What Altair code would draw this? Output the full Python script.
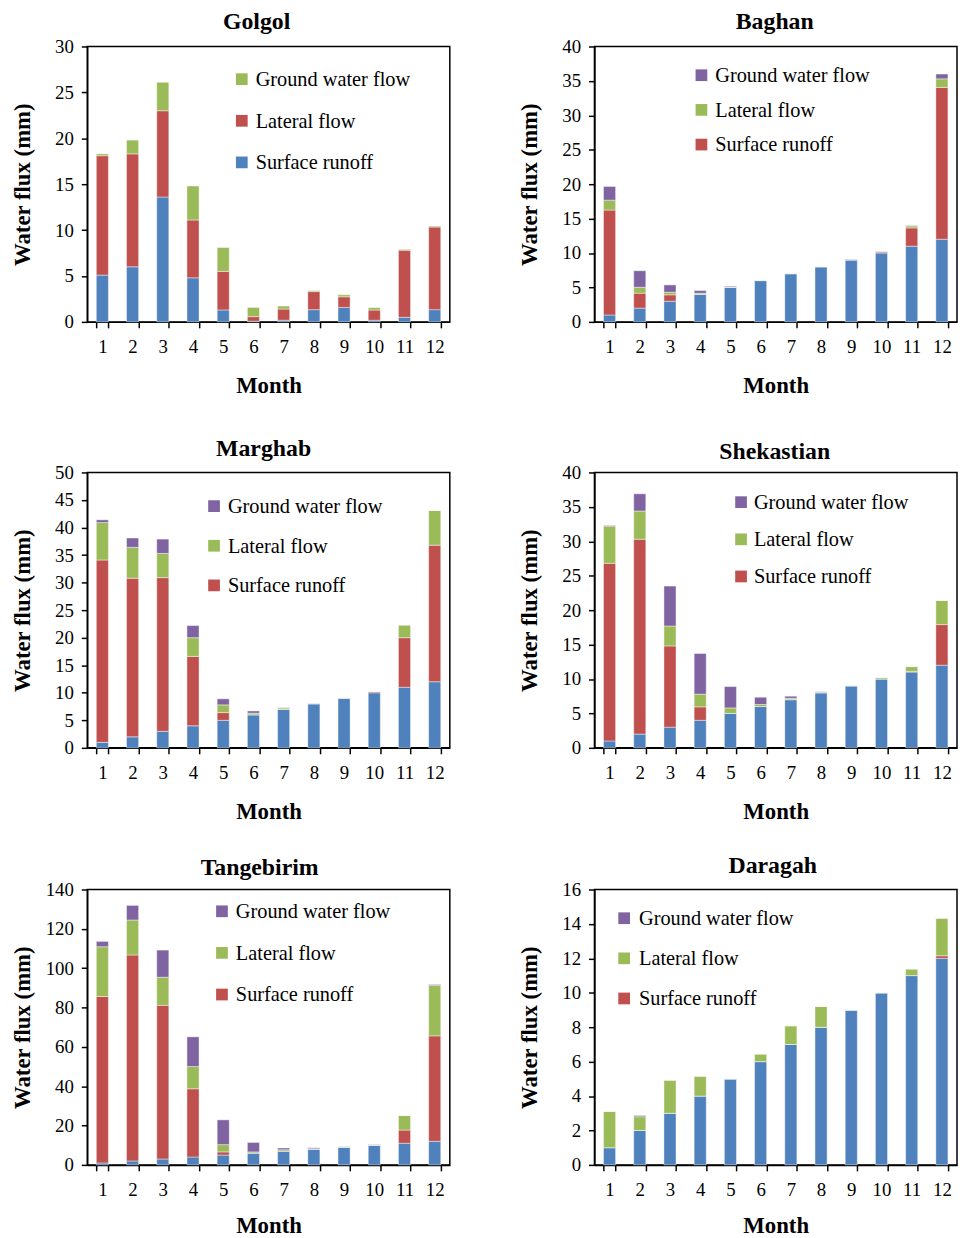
import altair as alt
import pandas as pd

SERIF = "Liberation Serif"
BLUE, RED, GREEN, PURPLE = "#4F81BD", "#C0504D", "#9BBB59", "#8064A2"

MONTHS = [1, 2, 3, 4, 5, 6, 7, 8, 9, 10, 11, 12]

# ---- Golgol (bottom -> top: blue, red, green)
golgol_surface = [5.1, 6.0, 13.6, 4.8, 1.3, 0.07, 0.18, 1.33, 1.58, 0.18, 0.5, 1.33]
golgol_lateral = [13.0, 12.3, 9.4, 6.3, 4.2, 0.5, 1.22, 1.97, 1.15, 1.11, 7.3, 9.0]
golgol_ground = [0.2, 1.5, 3.1, 3.7, 2.6, 1.0, 0.32, 0.11, 0.22, 0.26, 0.1, 0.1]

# ---- other stations (bottom -> top: blue, red, green, purple)
baghan_base = [1, 2, 3, 4, 5, 6, 7, 8, 9, 10, 11, 12]
baghan_surface = [15.24, 2.17, 0.93, 0.0, 0.0, 0.0, 0.0, 0.0, 0.0, 0.15, 2.65, 22.06]
baghan_lateral = [1.44, 0.86, 0.38, 0.17, 0.05, 0.02, 0.02, 0.05, 0.03, 0.05, 0.29, 1.24]
baghan_ground = [2.0, 2.4, 1.06, 0.38, 0.12, 0.02, 0.02, 0.0, 0.05, 0.05, 0.06, 0.7]

marghab_base = [1, 2, 3, 4, 5, 6, 7, 8, 9, 10, 11, 12]
marghab_surface = [33.1, 28.8, 27.9, 12.6, 1.4, 0.0, 0.0, 0.0, 0.0, 0.2, 9.0, 24.8]
marghab_lateral = [6.8, 5.6, 4.4, 3.4, 1.4, 0.3, 0.25, 0.05, 0.1, 0.05, 2.3, 6.3]
marghab_ground = [0.5, 1.7, 2.6, 2.2, 1.1, 0.4, 0.05, 0.05, 0.0, 0.0, 0.0, 0.0]

shekastian_base = [1, 2, 3, 4, 5, 6, 7, 8, 9, 10, 11, 12]
shekastian_surface = [25.8, 28.3, 11.8, 1.95, 0.0, 0.0, 0.0, 0.0, 0.0, 0.0, 0.1, 5.9]
shekastian_lateral = [5.4, 4.1, 2.9, 1.85, 0.8, 0.3, 0.2, 0.08, 0.05, 0.2, 0.7, 3.5]
shekastian_ground = [0.1, 2.5, 5.8, 5.9, 3.1, 1.05, 0.3, 0.07, 0.0, 0.0, 0.0, 0.0]

tangebirim_base = [1, 2, 3, 4, 5, 6, 7, 8, 9, 10, 11, 12]
tangebirim_surface = [84.6, 104.7, 78.1, 34.7, 1.6, 0.0, 0.0, 0.0, 0.0, 0.0, 6.7, 53.6]
tangebirim_lateral = [25.3, 17.8, 14.3, 11.3, 3.7, 0.6, 0.7, 0.2, 0.2, 0.2, 7.4, 25.6]
tangebirim_ground = [2.7, 7.4, 13.8, 15.1, 12.6, 4.8, 0.9, 0.5, 0.2, 0.2, 0.0, 0.5]

daragah_base = [1, 2, 3, 4, 5, 6, 7, 8, 9, 10, 11, 12]
daragah_surface = [0.0, 0.0, 0.0, 0.0, 0.0, 0.0, 0.0, 0.0, 0.0, 0.0, 0.0, 0.15]
daragah_lateral = [2.1, 0.8, 1.92, 1.15, 0.0, 0.44, 1.08, 1.2, 0.0, 0.0, 0.38, 2.18]
daragah_ground = [0.0, 0.07, 0.0, 0.0, 0.0, 0.0, 0.0, 0.0, 0.0, 0.0, 0.0, 0.0]

# legend entries (top -> bottom)
golgol_legend = [("Ground water flow", GREEN), ("Lateral flow", RED), ("Surface runoff", BLUE)]
std_legend = [("Ground water flow", PURPLE), ("Lateral flow", GREEN), ("Surface runoff", RED)]

W, H = 366, 278


def panel(title, series, ymax, ystep, legend, leg_sq_x, leg_txt_x, leg_y0, leg_dy,
          title_dx, title_off, month_pad=22):
    rows = []
    for k, (name, color, vals) in enumerate(series):
        for m, v in zip(MONTHS, vals):
            rows.append({"month": m, "series": name, "color": color, "value": v, "order": k})
    df = pd.DataFrame(rows)
    bars = alt.Chart(df).mark_bar(stroke="white", strokeWidth=0.6, strokeOpacity=0.7).encode(
        x=alt.X("month:O", title="Month",
                scale=alt.Scale(paddingInner=0.6, paddingOuter=0.3),
                axis=alt.Axis(labelAngle=0, tickBand="extent", tickSize=6, labelPadding=10,
                              minExtent=31, maxExtent=31, titlePadding=month_pad)),
        y=alt.Y("value:Q", stack="zero", title="Water flux (mm)",
                scale=alt.Scale(domain=[0, ymax], nice=False),
                axis=alt.Axis(values=list(range(0, ymax + 1, ystep)), tickSize=6, labelPadding=8,
                              minExtent=42, maxExtent=42, titlePadding=11)),
        color=alt.Color("color:N", scale=None),
        order=alt.Order("order:Q", sort="ascending"),
        detail="series:N",
    )
    layers = [bars]
    for i, (lab, col) in enumerate(legend):
        ldf = pd.DataFrame({"label": [lab]})
        yy = leg_y0 + i * leg_dy
        layers.append(alt.Chart(ldf).mark_square(size=140, color=col, opacity=1).encode(
            x=alt.value(leg_sq_x), y=alt.value(yy)))
        layers.append(alt.Chart(ldf).mark_text(align="left", baseline="middle", font=SERIF,
                                               fontSize=20.5, color="black").encode(
            x=alt.value(leg_txt_x), y=alt.value(yy + 1), text="label:N"))
    return alt.layer(*layers).properties(
        width=W, height=H,
        title=alt.TitleParams(title, dx=title_dx, offset=title_off),
    )


def std(base, surf, lat, gw):
    return [("base", BLUE, base), ("Surface runoff", RED, surf),
            ("Lateral flow", GREEN, lat), ("Ground water flow", PURPLE, gw)]


p1 = panel("Golgol",
           [("Surface runoff", BLUE, golgol_surface), ("Lateral flow", RED, golgol_lateral),
            ("Ground water flow", GREEN, golgol_ground)],
           30, 5, golgol_legend, 156, 170, 33, 42, -12, 4)
p2 = panel("Baghan", std(baghan_base, baghan_surface, baghan_lateral, baghan_ground),
           40, 5, std_legend, 108, 122, 29, 35, -1, 4)
p3 = panel("Marghab", std(marghab_base, marghab_surface, marghab_lateral, marghab_ground),
           50, 5, std_legend, 128, 142, 34, 40, -5, 3)
p4 = panel("Shekastian", std(shekastian_base, shekastian_surface, shekastian_lateral, shekastian_ground),
           40, 5, std_legend, 148, 161, 30, 37.5, -1, 0)
p5 = panel("Tangebirim", std(tangebirim_base, tangebirim_surface, tangebirim_lateral, tangebirim_ground),
           140, 20, std_legend, 136, 150, 22, 42, -9, 1, month_pad=19)
p6 = panel("Daragah", std(daragah_base, daragah_surface, daragah_lateral, daragah_ground),
           16, 2, std_legend, 30, 45, 29, 40.5, -3, 3, month_pad=19)

row1 = alt.hconcat(p1, p2, spacing=68)
row2 = alt.hconcat(p3, p4, spacing=68)
row3 = alt.hconcat(p5, p6, spacing=68)

chart = alt.vconcat(row1, alt.vconcat(row2, row3, spacing=29), spacing=38).properties(
    padding={"left": 3, "top": -5, "right": 0, "bottom": 0},
    background="white",
).configure_view(
    stroke="black", strokeWidth=1.5
).configure_axis(
    domainColor="black", domainWidth=1.5, tickColor="black", tickWidth=1.5,
    labelFont=SERIF, labelFontSize=19, labelColor="black",
    titleFont=SERIF, titleFontSize=23, titleFontWeight="bold", titleColor="black",
    grid=False,
).configure_title(
    font=SERIF, fontSize=24, fontWeight="bold", color="black", anchor="middle"
)

chart.save("out.html", embed_options={"renderer": "svg", "actions": False})
